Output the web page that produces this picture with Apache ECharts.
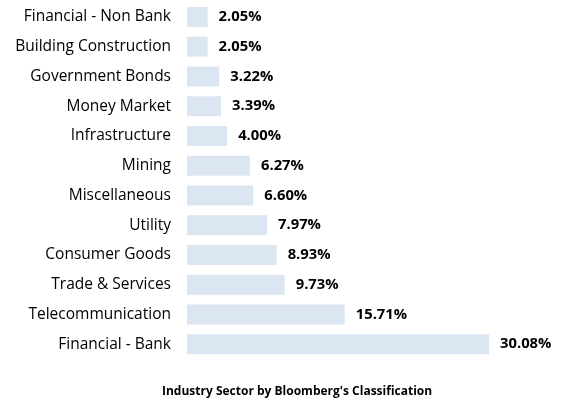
<!DOCTYPE html>
<html>
<head>
<meta charset="utf-8">
<script src="https://cdn.jsdelivr.net/npm/echarts@6/dist/echarts.min.js"></script>
<style>html,body{margin:0;padding:0;background:#fff}#c{width:566px;height:401px}</style>
</head>
<body>
<div id="c"></div>
<script>
const categories = ["Financial - Non Bank","Building Construction","Government Bonds","Money Market","Infrastructure","Mining","Miscellaneous","Utility","Consumer Goods","Trade & Services","Telecommunication","Financial - Bank"];
const values = [2.05,2.05,3.22,3.39,4.00,6.27,6.60,7.97,8.93,9.73,15.71,30.08];
const title = "Industry Sector by Bloomberg's Classification";

const chart = echarts.init(document.getElementById('c'));
chart.setOption({
  animation: false,
  title: {
    text: title, left: 157, top: 381,
    textStyle: {fontFamily: 'Open Sans', fontWeight: 'bold', fontSize: 12, color: '#000'}
  },
  grid: {left: 187, top: 2, width: 351.4, height: 357},
  xAxis: {type: 'value', min: 0, max: 35, show: false},
  yAxis: {
    type: 'category', data: categories, inverse: true,
    axisLine: {show: false}, axisTick: {show: false},
    axisLabel: {fontFamily: 'Open Sans', fontSize: 15.5, color: '#000', margin: 16}
  },
  series: [{
    type: 'bar', data: values, barWidth: 20,
    itemStyle: {color: '#dce6f2'},
    label: {show: true, position: 'right', distance: 11,
      formatter: p => p.value.toFixed(2) + '%',
      fontFamily: 'Open Sans', fontWeight: 'bold', fontSize: 14.8, color: '#000'}
  }]
});
</script>
</body>
</html>
